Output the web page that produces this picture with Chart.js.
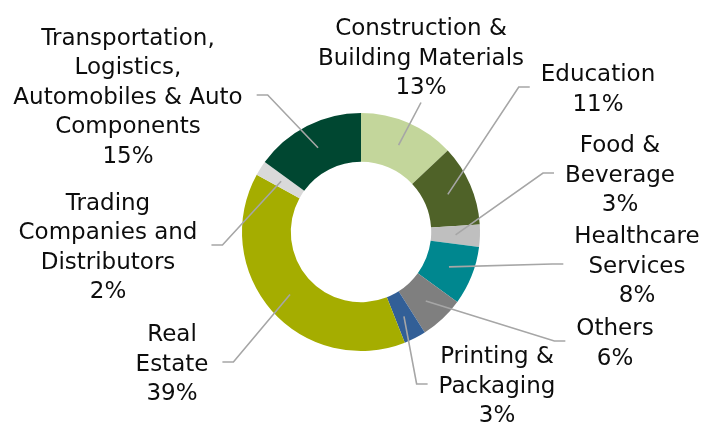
<!DOCTYPE html>
<html>
<head>
<meta charset="utf-8">
<script src="https://cdn.jsdelivr.net/npm/chart.js@4.4.0/dist/chart.umd.min.js"></script>
<style>
  html, body { margin: 0; padding: 0; background: #fff; }
  #wrap { width: 704px; height: 423px; }
</style>
</head>
<body>
<div id="wrap"><canvas id="c"></canvas></div>
<script>
const sectors = [
  ["Construction &", "Building Materials"],
  ["Education"],
  ["Food &", "Beverage"],
  ["Healthcare", "Services"],
  ["Others"],
  ["Printing &", "Packaging"],
  ["Real", "Estate"],
  ["Trading", "Companies and", "Distributors"],
  ["Transportation,", "Logistics,", "Automobiles & Auto", "Components"]
];
const shares = [13, 11, 3, 8, 6, 3, 39, 2, 15];
const colors = ["#c3d69b", "#4f6228", "#bfbfbf", "#00878f", "#7f7f7f", "#325f97", "#a5ad00", "#d9d9d9", "#004731"];

// where each label block sits, relative to the doughnut centre, and which side the leader meets
const labelPos = [
  [60, -175, "bottom"],
  [237, -144, "left"],
  [259, -58, "left"],
  [276, 33, "left"],
  [254, 110, "left"],
  [136, 153, "left"],
  [-189, 131, "right"],
  [-253, 14, "right"],
  [-233, -136, "right"]
];

const FONT = "23px 'DejaVu Sans'";
const LINE_H = 29.5;

const outsideLabels = {
  id: "outsideLabels",
  afterDatasetsDraw(chart) {
    const ctx = chart.ctx;
    const arcs = chart.getDatasetMeta(0).data;
    ctx.save();
    ctx.font = FONT;
    ctx.textAlign = "center";
    ctx.textBaseline = "middle";
    arcs.forEach(function (arc, i) {
      const lines = sectors[i].concat([shares[i] + "%"]);
      const cx = arc.x + labelPos[i][0];
      const cy = arc.y + labelPos[i][1];
      const top = cy - (lines.length - 1) * LINE_H / 2;
      let w = 0;
      lines.forEach(function (t, k) {
        w = Math.max(w, ctx.measureText(t).width);
        ctx.fillStyle = "#0d0d0d";
        ctx.fillText(t, cx, top + k * LINE_H + 2);
      });

      // leader line
      const p = arc.tooltipPosition();
      ctx.strokeStyle = "#a6a6a6";
      ctx.lineWidth = 1.6;
      ctx.beginPath();
      ctx.moveTo(p.x, p.y);
      const side = labelPos[i][2];
      if (side == "bottom") {
        ctx.lineTo(cx, top + (lines.length - 1) * LINE_H + 16);
      } else if (side == "left") {
        const ex = cx - w / 2 - 11;
        ctx.lineTo(ex - 11, cy - 1);
        ctx.lineTo(ex, cy - 1);
      } else {
        const ex = cx + w / 2 + 14;
        ctx.lineTo(ex + 11, cy - 1);
        ctx.lineTo(ex, cy - 1);
      }
      ctx.stroke();
    });
    ctx.restore();
  }
};

new Chart(document.getElementById("c"), {
  type: "doughnut",
  data: {
    labels: sectors.map(function (s) { return s.join(" "); }),
    datasets: [{
      data: shares,
      backgroundColor: colors,
      borderWidth: 0
    }]
  },
  options: {
    responsive: true,
    maintainAspectRatio: false,
    animation: false,
    cutout: "59%",
    layout: { padding: { left: 242, right: 224, top: 113, bottom: 72 } },
    plugins: {
      legend: { display: false },
      tooltip: { enabled: false }
    }
  },
  plugins: [outsideLabels]
});
</script>
</body>
</html>
